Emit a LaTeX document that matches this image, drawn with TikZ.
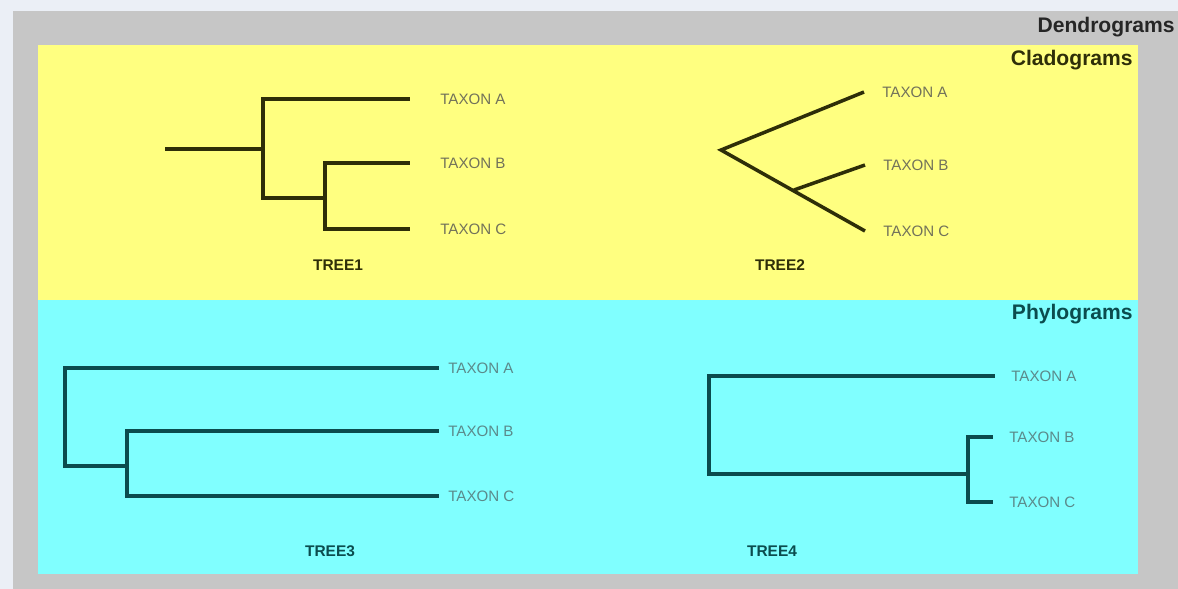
\documentclass[tikz,border=0pt]{standalone}
\usepackage{fontspec}
\setmainfont{Liberation Sans}
\usepackage{xcolor}
\usetikzlibrary{positioning}
\definecolor{page}{HTML}{EBEFF6}
\definecolor{frame}{HTML}{C6C6C6}
\definecolor{clado}{HTML}{FFFF80}
\definecolor{phylo}{HTML}{80FFFF}
\definecolor{cladink}{HTML}{2E2E08}
\definecolor{phyloink}{HTML}{0B4C4E}
\definecolor{cladtext}{HTML}{72725A}
\definecolor{phylotext}{HTML}{5B8A8B}
\definecolor{titleink}{HTML}{262626}
\begin{document}
\begin{tikzpicture}[x=0.02cm,y=-0.02cm,
  every node/.style={inner sep=0pt},
  branch/.style={line width=2pt,line cap=rect},
  taxon/.style={font=\fontsize{8.6}{10}\selectfont},
  treename/.style={font=\fontsize{8.8}{10}\selectfont\bfseries},
  heading/.style={font=\fontsize{12}{14}\selectfont\bfseries,anchor=east}]
  \useasboundingbox (0,0) rectangle (1178,589);
  \fill[page] (0,0) rectangle (1178,589);
  \fill[frame] (13,11) rectangle (1178,589);
  \fill[clado] (38,45) rectangle (1138,300);
  \fill[phylo] (38,300) rectangle (1138,574);
  \node[heading,text=titleink] (dendro) at (1175,27) {Dendrograms};
  \node[heading,text=cladink] (cladhead) at (1133,60) {Cladograms};
  \node[heading,text=phyloink] (phylohead) at (1133,314) {Phylograms};
  % tree 1
  \coordinate (t1r) at (167,149);
  \coordinate (t1n) at (263,149);
  \coordinate (t1m) at (325,198);
  \coordinate (t1a) at (408,99);
  \coordinate (t1b) at (408,163);
  \coordinate (t1c) at (408,229);
  \draw[branch,cladink] (t1r) -- (t1n);
  \draw[branch,cladink] (t1a) -| (t1n) |- (t1m);
  \draw[branch,cladink] (t1b) -| (t1m) |- (t1c);
  \node[taxon,text=cladtext,right=0.64cm of t1a] (l1a) {TAXON A};
  \node[taxon,text=cladtext,right=0.64cm of t1b] (l1b) {TAXON B};
  \node[taxon,text=cladtext,right=0.64cm of t1c] (l1c) {TAXON C};
  \node[treename,text=cladink] (tree1) at (338,265) {TREE1};
  % tree 2
  \coordinate (t2r) at (721,150);
  \coordinate (t2m) at (794,190);
  \coordinate (t2a) at (864,92);
  \coordinate (t2b) at (865,165);
  \coordinate (t2c) at (865,231);
  \draw[branch,cladink,line cap=butt] (t2a) -- (t2r) -- (t2c);
  \draw[branch,cladink,line cap=butt] (t2m) -- (t2b);
  \node[taxon,text=cladtext,right=0.36cm of t2a] (l2a) {TAXON A};
  \node[taxon,text=cladtext,right=0.36cm of t2b] (l2b) {TAXON B};
  \node[taxon,text=cladtext,right=0.36cm of t2c] (l2c) {TAXON C};
  \node[treename,text=cladink] (tree2) at (780,265) {TREE2};
  % tree 3
  \coordinate (t3n) at (65,417);
  \coordinate (t3m) at (127,466);
  \coordinate (t3a) at (437,368);
  \coordinate (t3b) at (437,431);
  \coordinate (t3c) at (437,496);
  \draw[branch,phyloink] (t3a) -| (t3n) |- (t3m);
  \draw[branch,phyloink] (t3b) -| (t3m) |- (t3c);
  \node[taxon,text=phylotext,right=0.22cm of t3a] (l3a) {TAXON A};
  \node[taxon,text=phylotext,right=0.22cm of t3b] (l3b) {TAXON B};
  \node[taxon,text=phylotext,right=0.22cm of t3c] (l3c) {TAXON C};
  \node[treename,text=phyloink] (tree3) at (330,551) {TREE3};
  % tree 4
  \coordinate (t4n) at (709,425);
  \coordinate (t4m) at (968,474);
  \coordinate (t4a) at (993,376);
  \coordinate (t4b) at (991,437);
  \coordinate (t4c) at (991,502);
  \draw[branch,phyloink] (t4a) -| (t4n) |- (t4m);
  \draw[branch,phyloink] (t4b) -| (t4m) |- (t4c);
  \node[taxon,text=phylotext,right=0.36cm of t4a] (l4a) {TAXON A};
  \node[taxon,text=phylotext,right=0.36cm of t4b] (l4b) {TAXON B};
  \node[taxon,text=phylotext,right=0.36cm of t4c] (l4c) {TAXON C};
  \node[treename,text=phyloink] (tree4) at (772,551) {TREE4};
\end{tikzpicture}
\end{document}
